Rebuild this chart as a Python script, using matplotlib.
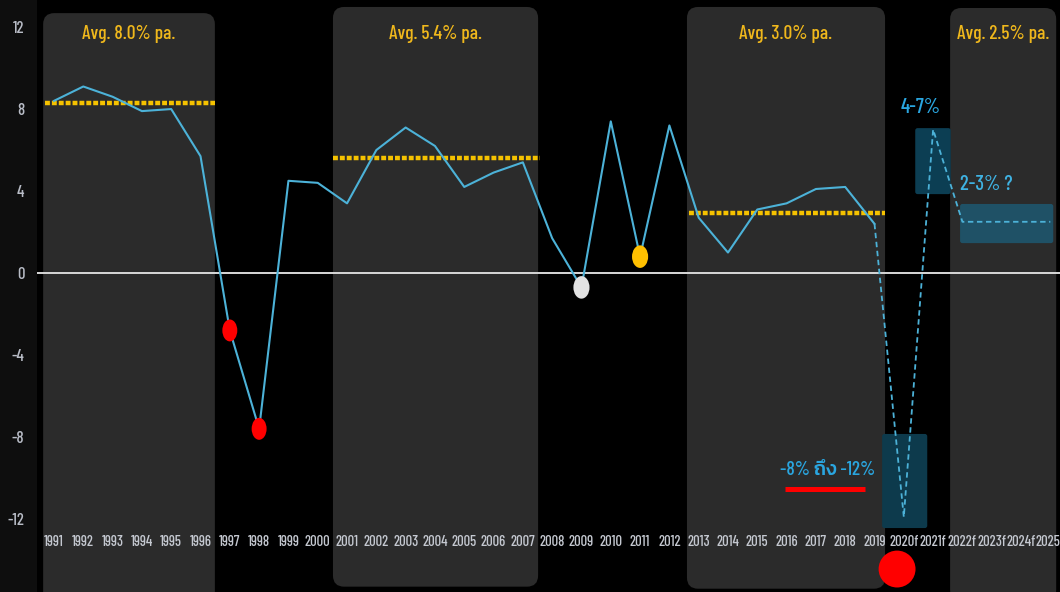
# Thai GDP growth 1991-2025f, dark style chart
import matplotlib
matplotlib.use("Agg")
from matplotlib import pyplot as plt
from matplotlib.patches import FancyBboxPatch, Ellipse

# Data
years = ["1991", "1992", "1993", "1994", "1995", "1996", "1997", "1998", "1999", "2000",
         "2001", "2002", "2003", "2004", "2005", "2006", "2007", "2008", "2009", "2010",
         "2011", "2012", "2013", "2014", "2015", "2016", "2017", "2018", "2019",
         "2020f", "2021f", "2022f", "2023f", "2024f", "2025f"]
actual = [8.4, 9.1, 8.6, 7.9, 8.0, 5.7, -2.8, -7.6, 4.5, 4.4,
          3.4, 6.0, 7.1, 6.2, 4.2, 4.9, 5.4, 1.7, -0.7, 7.4,
          0.8, 7.2, 2.7, 1.0, 3.1, 3.4, 4.1, 4.2, 2.4]
forecast = [2.4, -11.9, 7.0, 2.5, 2.5, 2.5, 2.5]    # 2019 .. 2025f

avg_labels = ["Avg. 8.0% pa.", "Avg. 5.4% pa.", "Avg. 3.0% pa.", "Avg. 2.5% pa."]
avg_values = [8.3, 5.6, 2.93]
# index spans of the shaded periods (left, right)
periods = [(-0.37, 5.49), (9.52, 16.52), (21.6, 28.36), (30.58, 34.2)]
avg_spans = [(-0.31, 5.49), (9.52, 16.6), (21.67, 28.36)]

red_pts = [6, 7]        # 1997, 1998
grey_pt = 18            # 2009
gold_pt = 20            # 2011

x = list(range(len(years)))
xa = x[:len(actual)]
xf = x[len(actual) - 1:]

cond = ["Barlow Condensed", "DejaVu Sans"]

fig = plt.figure(figsize=(10.6, 5.92), dpi=100, facecolor="#0e0e0e")
ax = fig.add_axes([37 / 1060, 0, 1 - 37 / 1060, 1])
ax.set_facecolor("black")
ax.set_xlim(-0.58, 34.33)
ax.set_ylim(-15.56, 13.32)
for s in ax.spines.values():
    s.set_visible(False)

asp = 29.3 / 20.5   # y-units per x-unit for round corners

# shaded periods
tops = [12.68, 12.98, 12.98, 12.93]
bots = [-16.5, -15.3, -15.4, -16.0]
for (l, r), t, b in zip(periods, tops, bots):
    ax.add_patch(FancyBboxPatch((l, b), r - l, t - b,
                                boxstyle="round,pad=0,rounding_size=0.38",
                                mutation_aspect=asp, fc="#2b2b2b", ec="none", zorder=0))

# period average labels
for (l, r), lab in zip(periods, avg_labels):
    ax.text((l + r) / 2, 11.65, lab, color="#f0b81c", fontsize=14, ha="center", va="center",
            family=cond, weight="medium", zorder=5)

# forecast ranges
boxes = [((28.26, -12.44), 1.54, 4.59, "#0d3a4c"),
         ((29.39, 3.85), 1.21, 3.22, "#0c3e53"),
         ((30.92, 1.46), 3.18, 1.91, "#1f5166")]
for (bx, by), w, h, c in boxes:
    ax.add_patch(FancyBboxPatch((bx, by), w, h, boxstyle="round,pad=0,rounding_size=0.08",
                                mutation_aspect=asp, fc=c, ec="none", zorder=1))

# zero line
ax.axhline(0, color="#d8d8d8", lw=1.4, zorder=2)

# averages
for (l, r), v in zip(avg_spans, avg_values):
    ax.plot([l, r], [v, v], color="#f5c200", lw=3.2, dashes=(1.1, 0.45),
            solid_capstyle="butt", zorder=3)

# growth line
ax.plot(xa, actual, color="#4cb2d8", lw=1.5, zorder=4)
ax.plot(xf, forecast, color="#4cb2d8", lw=1.3, ls=(0, (3, 2)), zorder=4)

# markers
for i in red_pts:
    ax.add_patch(Ellipse((i, actual[i]), 0.51, 1.07, fc="#ff0000", ec="none", zorder=5))
ax.add_patch(Ellipse((grey_pt, actual[grey_pt]), 0.55, 1.1, fc="#e2e2e2", ec="none", zorder=5))
ax.add_patch(Ellipse((gold_pt, actual[gold_pt]), 0.55, 1.1, fc="#ffc000", ec="none", zorder=5))
ax.add_patch(Ellipse((28.77, -14.44), 1.26, 1.8, fc="#ff0000", ec="none", zorder=5))

# annotations
ax.text(29.56, 8.1, "4-7%", color="#2aa6e0", fontsize=15, ha="center", va="center",
        family=cond, weight="medium", zorder=6)
ax.text(31.8, 4.3, "2-3% ?", color="#3fb2e2", fontsize=15, ha="center", va="center",
        family=cond, weight="medium", zorder=6)
ax.text(26.4, -9.6, "-8% ถึง -12%", color="#2aa6e0", fontsize=14, ha="center", va="center",
        family=["Barlow Condensed", "Kanit", "Bai Jamjuree", "Athiti", "DejaVu Sans"],
        weight="medium", zorder=6)
ax.plot([24.95, 27.68], [-10.54, -10.54], color="#ff0000", lw=3.6, solid_capstyle="butt", zorder=6)

# ticks
ax.set_yticks([-12, -8, -4, 0, 4, 8, 12])
ax.set_yticklabels(["-12", "-8", "-4", "0", "4", "8", "12"])
ax.set_xticks(x)
ax.set_xticklabels(years)
ax.tick_params(axis="y", length=0, pad=9, colors="#b8bcc6", labelsize=12)
ax.tick_params(axis="x", length=0, pad=-41, colors="#c4c8d0", labelsize=10.5)
for t in ax.get_xticklabels() + ax.get_yticklabels():
    t.set_family(cond)
    t.set_weight("medium")

fig.savefig("out.png", dpi=100, facecolor=fig.get_facecolor())
